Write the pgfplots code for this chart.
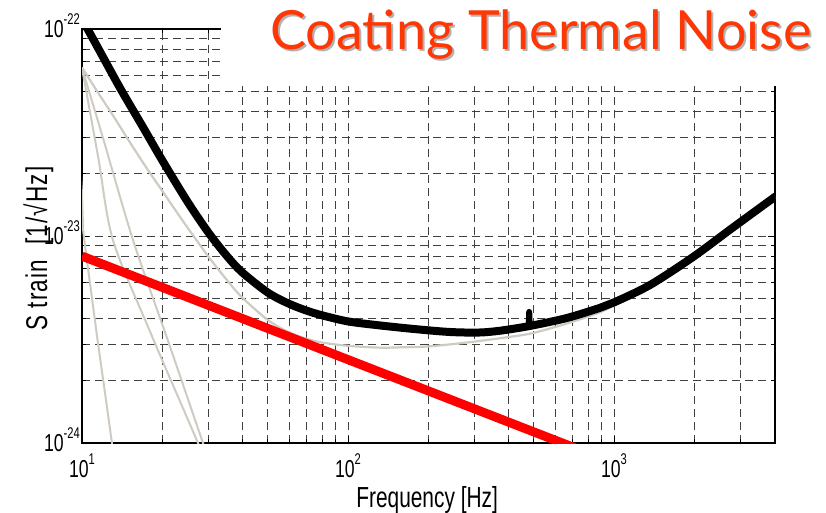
\documentclass[border=0pt]{standalone}
\usepackage{fontspec}
\setmainfont{Liberation Sans}[FakeStretch=0.72]
\newfontfamily\titlefont{Lato}
\newfontfamily\ylabfont{Liberation Sans}[FakeStretch=0.75,LetterSpace=4]
\usepackage{pgfplots}
\pgfplotsset{compat=1.18}
\definecolor{curvegray}{RGB}{207,203,195}
\definecolor{titlered}{RGB}{255,55,5}
\newcommand{\tl}[2]{{\fontsize{24.5pt}{25pt}\selectfont #1}\raisebox{13pt}{\fontsize{15.5pt}{16pt}\selectfont #2}}
\begin{document}
\begin{tikzpicture}
\useasboundingbox (-82pt,-69pt) rectangle (744pt,443pt);
\begin{axis}[
  at={(0pt,0pt)}, anchor=south west,
  scale only axis, width=693pt, height=414pt,
  xmode=log, ymode=log,
  xmin=10, xmax=4030, ymin=1e-24, ymax=1e-22,
  grid=both,
  major grid style={black!75, line width=0.9pt, dash pattern=on 8pt off 5pt},
  minor grid style={black!75, line width=0.9pt, dash pattern=on 8pt off 5pt},
  axis line style={line width=1.6pt},
  tick style={black, line width=0.9pt},
  tick align=inside, major tick length=7pt, minor tick length=4pt,
  xtick={10,100,1000},
  xticklabels={\tl{10}{1},\tl{10}{2},\tl{10}{3}},
  minor xtick={20,30,40,50,60,70,80,90,200,300,400,500,600,700,800,900,2000,3000,4000},
  ytick={1e-24,1e-23,1e-22},
  yticklabels={\tl{10}{-24},\tl{10}{-23},\tl{10}{-22}},
  minor ytick={2e-24,3e-24,4e-24,5e-24,6e-24,7e-24,8e-24,9e-24,2e-23,3e-23,4e-23,5e-23,6e-23,7e-23,8e-23,9e-23},
  yticklabel style={anchor=base east, inner sep=0pt, xshift=-2pt, yshift=-8.5pt},
  xticklabel style={anchor=base, inner sep=0pt, yshift=-34pt},
  xlabel={Frequency [Hz]},
  xlabel style={font=\fontsize{29pt}{30pt}\selectfont, at={(axis description cs:0.498,-0.1546)}, anchor=base, inner sep=0pt},
  ylabel={S train\ \ [1/√Hz]},
  ylabel style={font=\ylabfont\fontsize{30pt}{31pt}\selectfont, at={(axis description cs:-0.0505,0.47)}, anchor=base, inner sep=0pt},
  clip=true,
]
% steep gray curve
\addplot[curvegray, line width=2pt] coordinates {
(9.9,2.0e-23) (10,1.6e-23) (10.05,1.3e-23) (10.11,1.05e-23) (10.5,7.2e-24) (11,4.6e-24) (11.5,3.0e-24) (12.2,1.75e-24) (12.96,1.0e-24) (13.3,8.0e-25)};
% gray curve C
\addplot[curvegray, line width=2pt, smooth] coordinates {
(10,6.5e-23) (11.5,2.41e-23) (13.07,9.57e-24) (18,3.47e-24) (27.3,1.0e-24) (29,8.26e-25)};
% gray curve B
\addplot[curvegray, line width=2pt, smooth] coordinates {
(10,6.5e-23) (12,2.97e-23) (15.55,9.57e-24) (21,3.15e-24) (28.5,1.0e-24) (30,8.27e-25)};
% gray curve A (total without coating)
\addplot[curvegray, line width=2.2pt, smooth] coordinates {
(10,6.52e-23) (11.5,4.92e-23) (13,3.87e-23) (15,2.89e-23) (17.5,2.13e-23) (20,1.66e-23) (22,1.385e-23) (25,1.093e-23) (30,7.90e-24) (35,6.15e-24) (40,5.05e-24) (50,3.93e-24) (60,3.43e-24) (70,3.19e-24) (80,3.06e-24) (100,2.95e-24) (132,2.89e-24) (156,2.90e-24) (200,2.93e-24) (280,3.06e-24) (400,3.25e-24) (495,3.40e-24) (665,3.78e-24) (885,4.28e-24) (1000,4.62e-24) (1365,5.65e-24) (1981,7.82e-24) (2800,1.09e-23) (4064,1.55e-23)};
% coating thermal noise (red)
\addplot[red, line width=9pt] coordinates {(10,8.0e-24) (1000,8.0e-25)};
% total noise (black)
\addplot[black, line width=8pt, smooth, line join=round] coordinates {
(10.3,1.046e-22) (12,7.32e-23) (14,5.11e-23) (17,3.34e-23) (20,2.33e-23) (25,1.457e-23) (30,1.032e-23) (35,8.03e-24) (40,6.68e-24) (50,5.33e-24) (60,4.71e-24) (70,4.36e-24) (80,4.14e-24) (100,3.87e-24) (132,3.70e-24) (180,3.55e-24) (242,3.44e-24) (310,3.42e-24) (373,3.49e-24) (483,3.68e-24) (665,4.02e-24) (885,4.50e-24) (1000,4.78e-24) (1365,5.80e-24) (1981,7.92e-24) (2800,1.10e-23) (4064,1.56e-23)};
% violin mode spike
\addplot[black, line width=6pt, line cap=round, line join=round] coordinates {(478,3.66e-24) (480,4.3e-24) (482,3.67e-24)};
\end{axis}
\fill[white] (139pt,357pt) rectangle (760pt,460pt);
\node[anchor=base west, inner sep=0pt, text=black!30] at (190pt,391pt) {\titlefont\fontsize{54pt}{55pt}\selectfont Coating Thermal Noise};
\node[anchor=base west, inner sep=0pt, text=titlered] at (188pt,393pt) {\titlefont\fontsize{54pt}{55pt}\selectfont Coating Thermal Noise};
\end{tikzpicture}
\end{document}
